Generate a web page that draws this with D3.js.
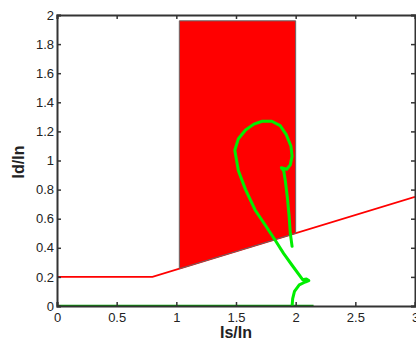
<!DOCTYPE html>
<html>
<head>
<meta charset="utf-8">
<script src="https://cdn.jsdelivr.net/npm/d3@7"></script>
<style>
body { margin:0; background:#fff; }
svg text { font-family: Arial, "Liberation Sans", sans-serif; fill:#222; }
</style>
</head>
<body>
<div id="chart"></div>
<script>
// axis ticks
const xTicks = [0, 0.5, 1, 1.5, 2, 2.5, 3];
const yTicks = [0, 0.2, 0.4, 0.6, 0.8, 1, 1.2, 1.4, 1.6, 1.8, 2];

// red limit line (Is/In, Id/In)
const limitLine = [[0, 0.2], [0.8, 0.2], [3, 0.75]];

// red zone polygon
const zone = [[1.025, 0.256], [1.025, 1.96], [2.0, 1.96], [2.0, 0.5]];

// green baseline
const baseLine = [[0, 0], [2.15, 0]];

// green trajectory
const traj = [
  [1.97, 0.0], [1.975, 0.05], [1.99, 0.10], [2.03, 0.145], [2.08, 0.165], [2.11, 0.175],
  [2.09, 0.185], [2.06, 0.18], [1.97, 0.28], [1.90, 0.36], [1.83, 0.45], [1.75, 0.55],
  [1.66, 0.66], [1.58, 0.80], [1.52, 0.93], [1.49, 1.07], [1.52, 1.15], [1.58, 1.21],
  [1.65, 1.25], [1.72, 1.27], [1.80, 1.27], [1.87, 1.24], [1.92, 1.18], [1.96, 1.10],
  [1.97, 1.03], [1.955, 0.97], [1.925, 0.94], [1.88, 0.95], [1.90, 0.93], [1.915, 0.85],
  [1.93, 0.75], [1.945, 0.62], [1.955, 0.50], [1.97, 0.41]
];

const W = 416, H = 343;
const mLeft = 57, mRight = 415, mTop = 15, mBottom = 306;

let svg = d3.select("#chart").append("svg")
  .attr("width", W).attr("height", H);

let x = d3.scaleLinear().domain([0, 3]).range([mLeft, mRight]);
let y = d3.scaleLinear().domain([0, 2]).range([mBottom, mTop]);

let line = d3.line().x(d => x(d[0])).y(d => y(d[1]));

// clip to plot area
svg.append("clipPath").attr("id", "clip")
  .append("rect").attr("x", mLeft).attr("y", mTop)
  .attr("width", mRight - mLeft).attr("height", mBottom - mTop);

let plot = svg.append("g").attr("clip-path", "url(#clip)");

plot.append("path")
  .attr("d", line(limitLine))
  .attr("fill", "none")
  .attr("stroke", "#ff0000")
  .attr("stroke-width", 1.8);

plot.append("path")
  .attr("d", line(zone) + "Z")
  .attr("fill", "#ff0000")
  .attr("stroke", "#666")
  .attr("stroke-width", 1);

plot.append("path")
  .attr("d", line(baseLine))
  .attr("fill", "none")
  .attr("stroke", "#00a000")
  .attr("stroke-width", 2.5);

plot.append("path")
  .attr("d", line(traj))
  .attr("fill", "none")
  .attr("stroke", "#00ee00")
  .attr("stroke-width", 3)
  .attr("stroke-linejoin", "round")
  .attr("stroke-linecap", "round");

// axes with inward ticks
let axB = svg.append("g").attr("transform", `translate(0,${mBottom})`)
  .call(d3.axisBottom(x).tickValues(xTicks).tickSize(-4).tickPadding(7).tickFormat(d3.format("")));
let axL = svg.append("g").attr("transform", `translate(${mLeft},0)`)
  .call(d3.axisLeft(y).tickValues(yTicks).tickSize(-4).tickPadding(3).tickFormat(d3.format("")));
let axT = svg.append("g").attr("transform", `translate(0,${mTop})`)
  .call(d3.axisTop(x).tickValues(xTicks).tickSize(-4).tickFormat(""));
let axR = svg.append("g").attr("transform", `translate(${mRight},0)`)
  .call(d3.axisRight(y).tickValues(yTicks).tickSize(-4).tickFormat(""));

[axB, axL, axT, axR].forEach(a => {
  a.select(".domain").attr("stroke", "#333").attr("stroke-width", 2);
  a.selectAll(".tick line").attr("stroke", "#333").attr("stroke-width", 1.5);
  a.selectAll(".tick text").style("font-size", "13px").attr("fill", "#333");
});

svg.append("text")
  .attr("x", 236).attr("y", 338)
  .attr("text-anchor", "middle")
  .style("font-size", "16px").style("font-weight", "bold")
  .attr("fill", "#333")
  .text("Is/In");

svg.append("text")
  .attr("transform", "translate(24,162) rotate(-90)")
  .attr("text-anchor", "middle")
  .style("font-size", "16px").style("font-weight", "bold")
  .attr("fill", "#333")
  .text("Id/In");
</script>
</body>
</html>
